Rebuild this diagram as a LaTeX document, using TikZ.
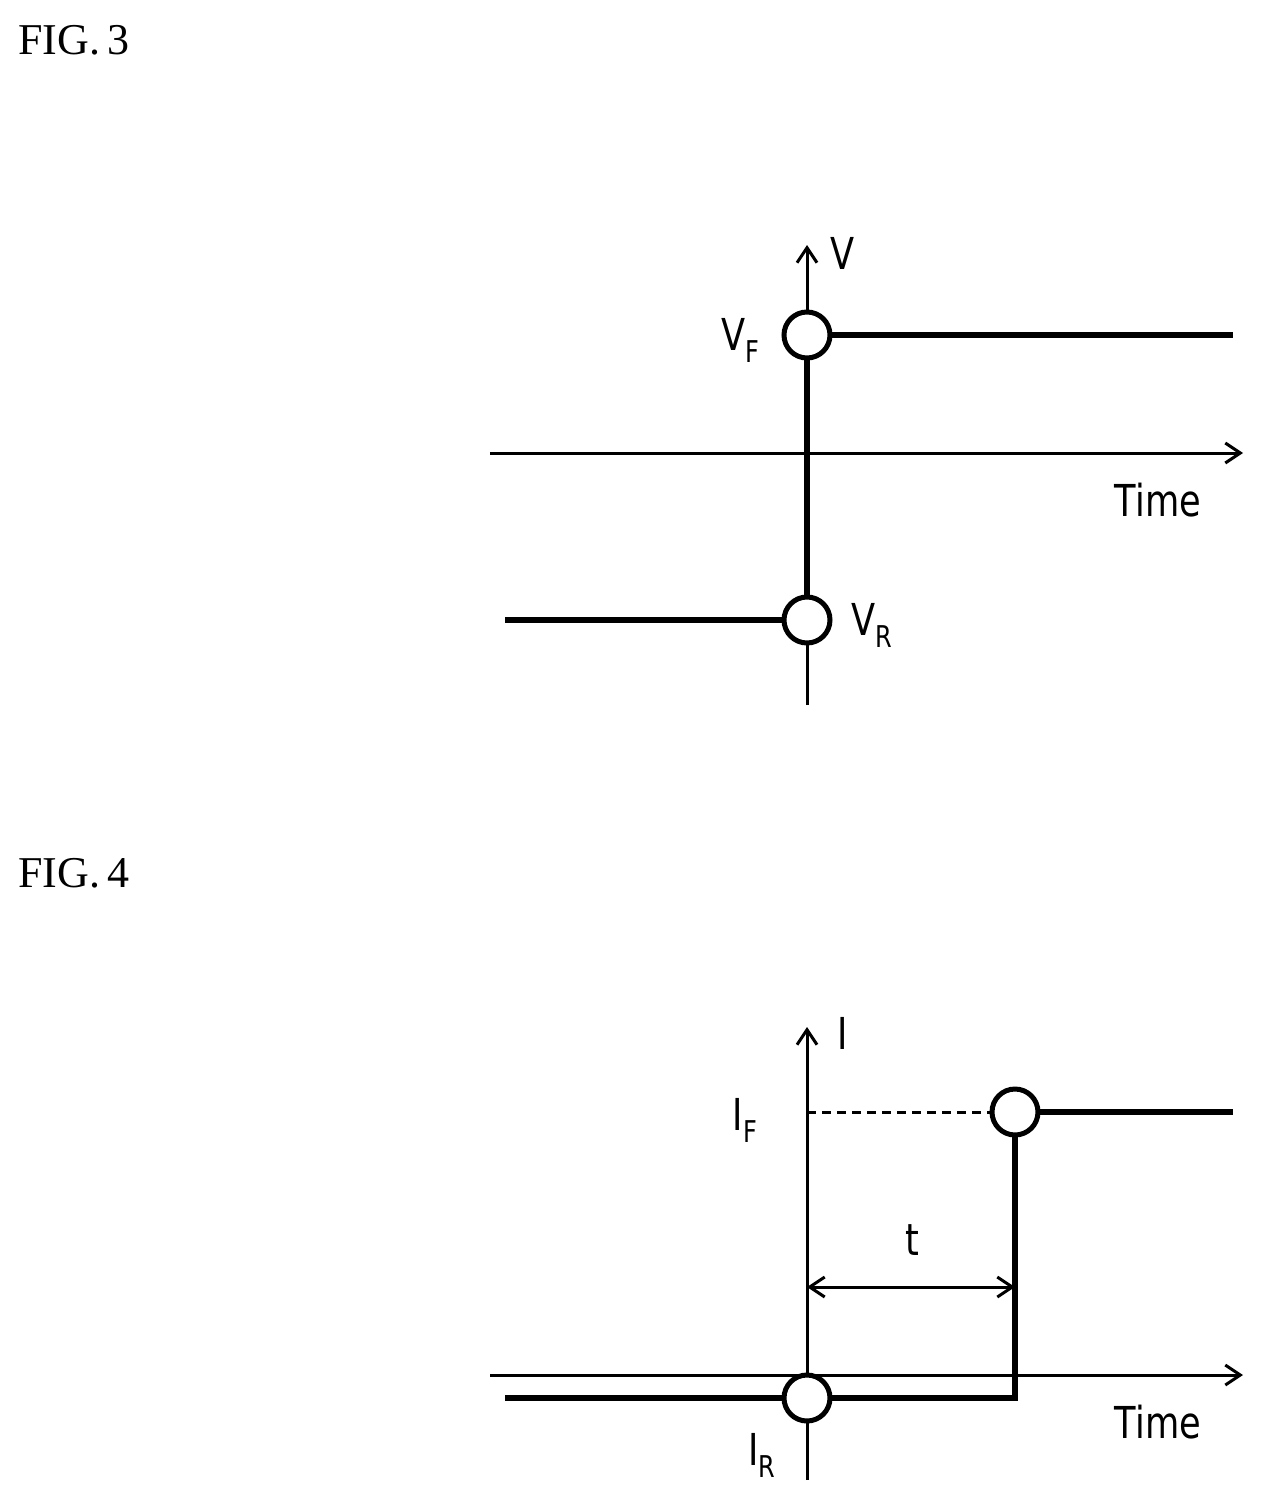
\documentclass[tikz,border=0pt]{standalone}
\usepackage{fontspec}
\setmainfont{Liberation Serif}
\newfontfamily\lbl{DejaVu Sans}
\usetikzlibrary{arrows.meta}
\begin{document}
\begin{tikzpicture}[x=1pt,y=-1pt,
 ax/.style={line width=3pt},
 tip/.style={-{Straight Barb[length=15pt,width=20pt,line width=3pt]}},
 thick line/.style={line width=6.5pt},
 dot/.style={circle,draw,line width=5pt,fill=white,minimum size=46pt,inner sep=0pt},
 lb/.style={font=\lbl\fontsize{44}{44}\selectfont,xscale=0.8,inner sep=0pt},
 fig/.style={font=\fontsize{44}{44}\selectfont,anchor=west,inner sep=0pt}]
\useasboundingbox (0,0) rectangle (1263,1502);
% FIG 3
\node[fig] (f3) at (18,40) {FIG.\,3};
\coordinate (v3b) at (807,705); \coordinate (v3t) at (807,245);
\coordinate (h3l) at (490,453); \coordinate (h3r) at (1243,453);
\draw[ax,tip] (v3b) -- (v3t);
\draw[ax,tip] (h3l) -- (h3r);
\coordinate (r0) at (505,620); \coordinate (f1) at (1233,335);
\draw[thick line] (r0) -- (807,620) -- (807,335) -- (f1);
\node[dot] (vr) at (807,620) {};
\node[dot] (vf) at (807,335) {};
\node[lb] (lv) at (843,253) {V};
\node[lb] (lvf) at (740,340) {V\raisebox{-12pt}{\fontsize{30}{30}\selectfont F}};
\node[lb] (lvr) at (872,625) {V\raisebox{-12pt}{\fontsize{30}{30}\selectfont R}};
\node[lb] (t3) at (1158,500) {Time};
% FIG 4
\node[fig] (f4) at (18,873) {FIG.\,4};
\coordinate (v4b) at (807,1480); \coordinate (v4t) at (807,1027);
\coordinate (h4l) at (490,1375); \coordinate (h4r) at (1243,1375);
\draw[ax,tip] (v4b) -- (v4t);
\draw[ax,tip] (h4l) -- (h4r);
\coordinate (i0) at (505,1398); \coordinate (i1) at (1233,1112);
\coordinate (iy) at (807,1112);
\draw[thick line] (i0) -- (1015,1398) -- (1015,1112) -- (i1);
\node[dot] (ir) at (807,1398) {};
\node[dot] (if) at (1015,1112) {};
\draw[ax,dash pattern=on 9pt off 6pt] (iy) -- (if.west);
\coordinate (ta) at (807,1287); \coordinate (tb) at (1015,1287);
\draw[ax,{Straight Barb[length=15pt,width=20pt,line width=3pt]}-{Straight Barb[length=15pt,width=20pt,line width=3pt]}] (ta) -- (tb);
\node[lb] (lt) at (912,1240) {t};
\node[lb] (li) at (843,1033) {I};
\node[lb] (lif) at (745,1120) {I\raisebox{-12pt}{\fontsize{30}{30}\selectfont F}};
\node[lb] (lir) at (762,1455) {I\raisebox{-12pt}{\fontsize{30}{30}\selectfont R}};
\node[lb] (t4) at (1158,1422) {Time};
\end{tikzpicture}
\end{document}
